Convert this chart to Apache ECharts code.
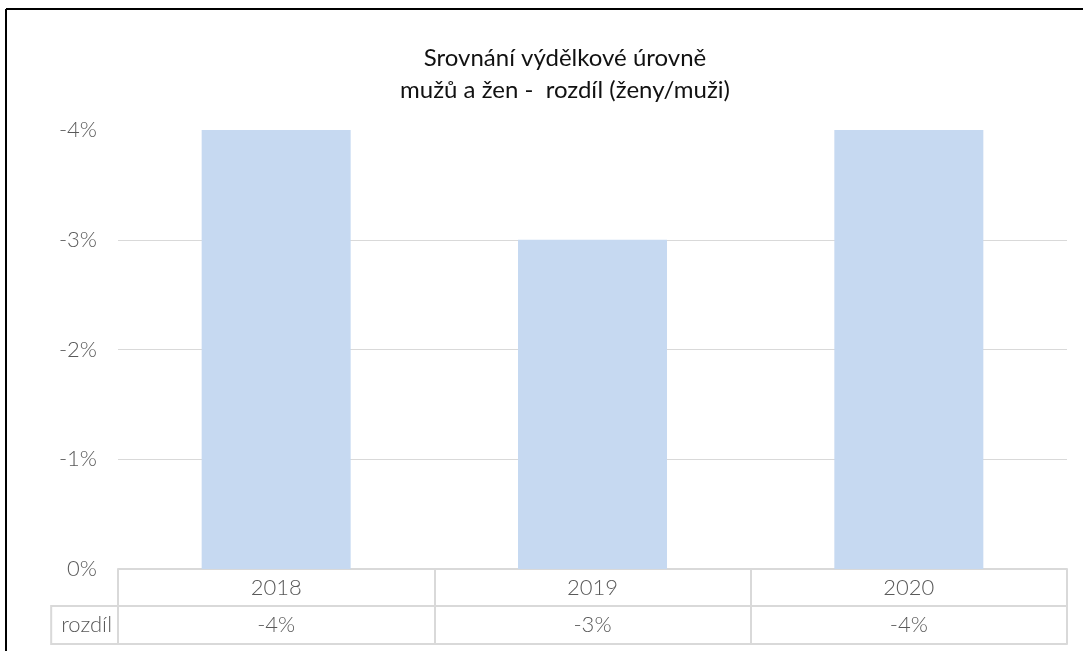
<!DOCTYPE html>
<html><head><meta charset="utf-8">
<script src="https://cdn.jsdelivr.net/npm/echarts@6/dist/echarts.min.js"></script>
<style>html,body{margin:0;padding:0;background:#fff}#c{width:1083px;height:651px}</style>
</head><body><div id="c"></div>
<script>
// ---- data ----
const titleLines = ['Srovnání výdělkové úrovně', 'mužů a žen -  rozdíl (ženy/muži)'];
const categories = ['2018', '2019', '2020'];
const diffs = [-4, -3, -4];
const rowLabel = 'rozdíl';
const yMin = -4, yMax = 0, yInterval = 1;

// ---- styling ----
const FONT = 'Lato, "Liberation Sans", sans-serif';
const TXT = '#595959';
const LINE = '#d9d9d9';
const BAR = '#C6D9F1';
const pct = v => v + '%';

const chart = echarts.init(document.getElementById('c'), null, {renderer: 'canvas'});
const labelStyle = {fontFamily: FONT, fontSize: 22, fontWeight: 300, color: TXT};

chart.setOption({
  animation: false,
  backgroundColor: '#fff',
  title: {
    text: titleLines.join('\n'),
    left: 560, top: 37, textAlign: 'center',
    textStyle: {fontFamily: FONT, fontSize: 24, fontWeight: 'normal', color: '#111', lineHeight: 32}
  },
  grid: {left: 118, right: 16, top: 130, bottom: 82, containLabel: false, outerBoundsMode: 'none'},
  xAxis: [
    {
      type: 'category', data: categories, position: 'bottom', offset: 0,
      axisLine: {show: true, lineStyle: {color: LINE, width: 2}},
      axisTick: {show: true, length: 75, alignWithLabel: false, lineStyle: {color: LINE, width: 2}},
      axisLabel: Object.assign({margin: 8}, labelStyle),
      splitLine: {show: false}
    },
    {
      type: 'category', data: categories, position: 'bottom', offset: 37,
      axisLine: {show: true, lineStyle: {color: LINE, width: 2}},
      axisTick: {show: false},
      axisLabel: Object.assign({margin: 8, formatter: (v, i) => pct(diffs[i])}, labelStyle),
      splitLine: {show: false},
      name: rowLabel, nameLocation: 'start', nameGap: 0, nameMoveOverlap: false,
      nameTextStyle: Object.assign({}, labelStyle, {
        align: 'right', verticalAlign: 'top',
        borderColor: LINE, borderWidth: 2,
        height: 38, lineHeight: 38, padding: [0, 6, 0, 10]
      })
    },
    {
      type: 'category', data: categories, position: 'bottom', offset: 75,
      axisLine: {show: true, lineStyle: {color: LINE, width: 2}},
      axisTick: {show: false}, axisLabel: {show: false}, splitLine: {show: false}
    }
  ],
  yAxis: {
    type: 'value', inverse: true, min: yMin, max: yMax, interval: yInterval,
    axisLine: {show: false}, axisTick: {show: false},
    axisLabel: Object.assign({margin: 21, formatter: v => pct(v)}, labelStyle),
    splitLine: {show: true, showMinLine: false, showMaxLine: false, lineStyle: {color: LINE, width: 1}}
  },
  series: [{
    type: 'bar', data: diffs, xAxisIndex: 0, barWidth: 149,
    itemStyle: {color: BAR}, silent: true
  }],
  graphic: [
    {type: 'line', shape: {x1: 6, y1: 9, x2: 1083, y2: 9}, style: {stroke: '#000', lineWidth: 2}},
    {type: 'line', shape: {x1: 6, y1: 9, x2: 6, y2: 651}, style: {stroke: '#000', lineWidth: 2}}
  ]
});
</script></body></html>
